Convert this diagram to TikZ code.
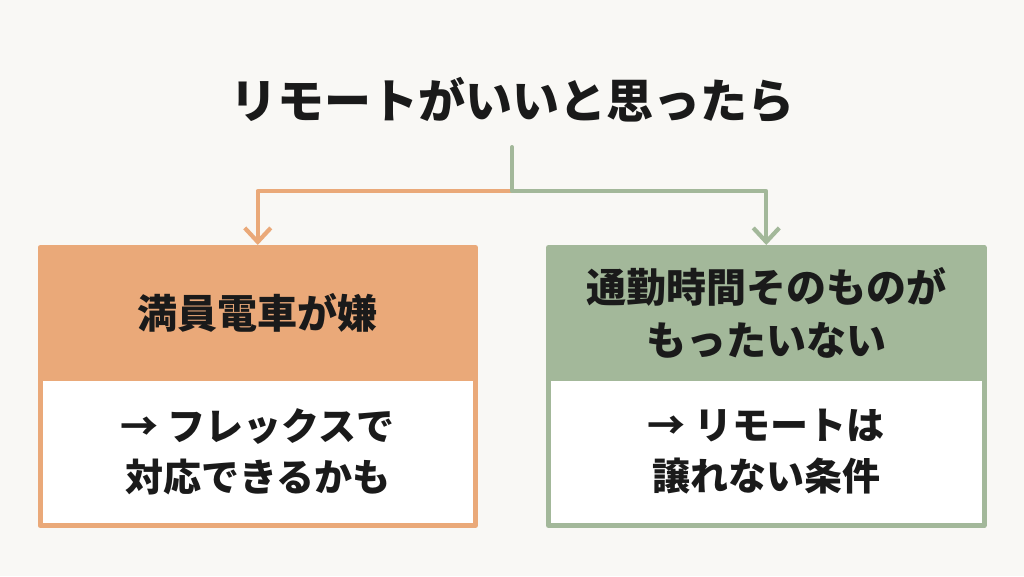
\documentclass[tikz,border=0pt]{standalone}
\usepackage{fontspec}
\newfontfamily\cjk{Noto Sans CJK JP}
\usetikzlibrary{arrows.meta}
\definecolor{bgcol}{HTML}{F9F8F5}
\definecolor{orng}{HTML}{EAA979}
\definecolor{sage}{HTML}{A3B89A}
\definecolor{ink}{HTML}{1A1A1A}

\begin{document}
\begin{tikzpicture}[x=1pt,y=-1pt,>={Straight Barb[length=14pt,width=26pt]},
    line width=4.2pt,line cap=round,line join=round,
    head/.style={draw=#1,fill=#1,line width=5pt,minimum width=435.5pt,minimum height=130.5pt,
      align=center,text=ink,font=\cjk\bfseries\fontsize{40}{53}\selectfont},
    body/.style={draw=#1,fill=white,line width=5pt,minimum width=435.5pt,minimum height=147.5pt,
      align=center,text=ink,font=\cjk\bfseries\fontsize{38}{51}\selectfont}]
    \fill[bgcol] (0,0) rectangle (1024,576);
    \useasboundingbox (0,0) rectangle (1024,576);
    \node[text=ink,font=\cjk\bfseries\fontsize{47}{50}\selectfont,minimum height=90pt] (title) at (512,100) {リモートがいいと思ったら};
    \node[head=orng] (lhead) at (257.75,312.75) {満員電車が嫌};
    \node[body=orng] (lbody) at (257.75,451.75) {→ フレックスで\\対応できるかも};
    \node[head=sage] (rhead) at (766.25,312.75) {通勤時間そのものが\\もったいない};
    \node[body=sage] (rbody) at (766.25,451.75) {→ リモートは\\譲れない条件};
    \coordinate (split) at (512,191);
    \draw[orng,->] (split) -| (lhead.north);
    \draw[sage,->] (title.south) -- (split) -| (rhead.north);
\end{tikzpicture}
\end{document}
